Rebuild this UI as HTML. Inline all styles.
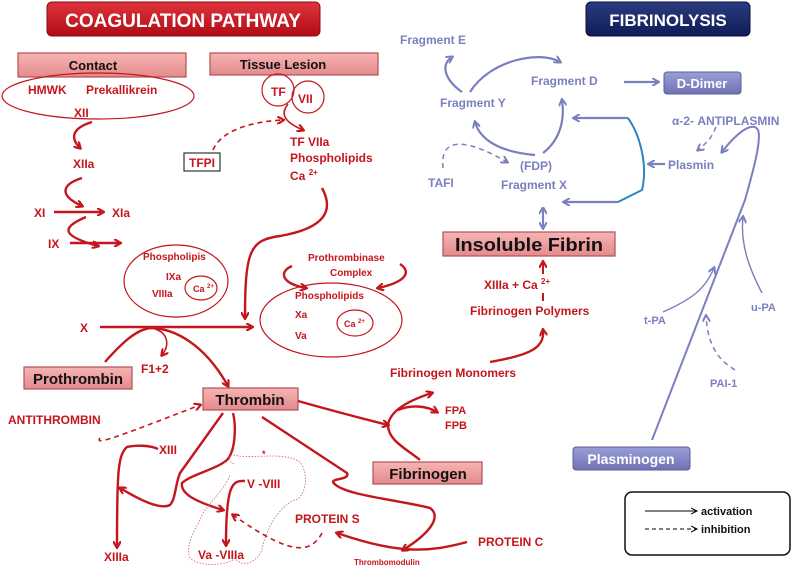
<!DOCTYPE html>
<html><head><meta charset="utf-8"><style>
body{margin:0;background:#fff}
svg{display:block}
text{font-family:"Liberation Sans",sans-serif;font-weight:bold}
.r{fill:#c4161c}
.p{fill:#7a7fbf}
</style></head><body>
<svg width="800" height="571" viewBox="0 0 800 571" xmlns="http://www.w3.org/2000/svg">
<defs>
<linearGradient id="gr" x1="0" y1="0" x2="0" y2="1"><stop offset="0" stop-color="#e0343c"/><stop offset="1" stop-color="#b00c16"/></linearGradient>
<linearGradient id="gb" x1="0" y1="0" x2="0" y2="1"><stop offset="0" stop-color="#2a3c80"/><stop offset="1" stop-color="#0f1c55"/></linearGradient>
<linearGradient id="gp" x1="0" y1="0" x2="0" y2="1"><stop offset="0" stop-color="#f6b4b4"/><stop offset="1" stop-color="#e48a8c"/></linearGradient>
<linearGradient id="gv" x1="0" y1="0" x2="0" y2="1"><stop offset="0" stop-color="#9a9ed6"/><stop offset="1" stop-color="#6e72b4"/></linearGradient>
<marker id="ar" markerWidth="8" markerHeight="8" refX="6" refY="4" orient="auto" markerUnits="userSpaceOnUse"><path d="M0,0 L7,4 L0,8" fill="none" stroke="#c4161c" stroke-width="2.2"/></marker>
<marker id="ap" markerWidth="8" markerHeight="8" refX="6" refY="4" orient="auto" markerUnits="userSpaceOnUse"><path d="M0,0 L7,4 L0,8" fill="none" stroke="#7a7fbf" stroke-width="2"/></marker>
<marker id="aps" markerWidth="8" markerHeight="8" refX="1" refY="4" orient="auto" markerUnits="userSpaceOnUse"><path d="M7,0 L0,4 L7,8" fill="none" stroke="#7a7fbf" stroke-width="2"/></marker>
<marker id="ak" markerWidth="8" markerHeight="8" refX="6" refY="4" orient="auto" markerUnits="userSpaceOnUse"><path d="M0,1 L6,4 L0,7" fill="none" stroke="#000" stroke-width="1"/></marker>
</defs>

<!-- headers -->
<rect x="47" y="2" width="273" height="34" rx="5" fill="url(#gr)" stroke="#8a0a10"/>
<text x="183" y="27" text-anchor="middle" fill="#fff" font-size="19">COAGULATION PATHWAY</text>
<rect x="586" y="2" width="164" height="34" rx="5" fill="url(#gb)" stroke="#0a1040"/>
<text x="668" y="26" text-anchor="middle" fill="#fff" font-size="17">FIBRINOLYSIS</text>

<!-- pink boxes -->
<g stroke="#b05058" stroke-width="1.2" fill="url(#gp)">
<rect x="18" y="53" width="168" height="24"/>
<rect x="210" y="53" width="168" height="22"/>
<rect x="24" y="367" width="108" height="22"/>
<rect x="203" y="388" width="95" height="22"/>
<rect x="373" y="462" width="109" height="22"/>
<rect x="443" y="232" width="172" height="24"/>
</g>
<g fill="#111" font-size="13">
<text x="93" y="70" text-anchor="middle">Contact</text>
<text x="283" y="69" text-anchor="middle">Tissue Lesion</text>
</g>
<g fill="#111" font-size="15">
<text x="78" y="384" text-anchor="middle">Prothrombin</text>
<text x="250" y="405" text-anchor="middle">Thrombin</text>
<text x="428" y="479" text-anchor="middle">Fibrinogen</text>
<text x="455" y="251" font-size="18" textLength="148" lengthAdjust="spacingAndGlyphs">Insoluble Fibrin</text>
</g>

<!-- purple boxes -->
<rect x="664" y="72" width="77" height="22" rx="3" fill="url(#gv)" stroke="#5a5e9a"/>
<text x="702" y="88" text-anchor="middle" fill="#fff" font-size="13">D-Dimer</text>
<rect x="573" y="447" width="117" height="23" rx="3" fill="url(#gv)" stroke="#5a5e9a"/>
<text x="631" y="464" text-anchor="middle" fill="#fff" font-size="14">Plasminogen</text>

<!-- ellipses & circles -->
<g fill="none" stroke="#c4161c" stroke-width="1.2">
<ellipse cx="98" cy="96" rx="96" ry="23"/>
<circle cx="278" cy="90" r="16"/>
<circle cx="308" cy="97" r="16"/>
<ellipse cx="176" cy="281" rx="52" ry="36"/>
<ellipse cx="201" cy="288" rx="16" ry="12"/>
<ellipse cx="331" cy="320" rx="71" ry="37"/>
<ellipse cx="355" cy="323" rx="18" ry="13"/>
</g>

<!-- red text -->
<g class="r" font-size="12">
<text x="28" y="94">HMWK</text><text x="86" y="94">Prekallikrein</text>
<text x="74" y="117">XII</text>
<text x="271" y="96">TF</text><text x="298" y="103">VII</text>
<text x="290" y="146">TF  VIIa</text>
<text x="290" y="162">Phospholipids</text>
<text x="290" y="180">Ca <tspan font-size="8" dy="-5">2+</tspan></text>
<text x="73" y="168">XIIa</text>
<text x="34" y="217">XI</text><text x="112" y="217">XIa</text>
<text x="48" y="248">IX</text>
<text x="143" y="260" font-size="10">Phospholipis</text>
<text x="166" y="280" font-size="10">IXa</text>
<text x="152" y="297" font-size="10">VIIIa</text>
<text x="193" y="292" font-size="9">Ca <tspan font-size="6" dy="-4">2+</tspan></text>
<text x="308" y="261" font-size="10">Prothrombinase</text>
<text x="330" y="276" font-size="10">Complex</text>
<text x="295" y="299" font-size="10">Phospholipids</text>
<text x="295" y="318" font-size="10">Xa</text>
<text x="295" y="339" font-size="10">Va</text>
<text x="344" y="327" font-size="9">Ca <tspan font-size="6" dy="-4">2+</tspan></text>
<text x="80" y="332">X</text>
<text x="141" y="373">F1+2</text>
<text x="8" y="424">ANTITHROMBIN</text>
<text x="159" y="454" font-weight="normal">XIII</text>
<text x="104" y="561">XIIIa</text>
<text x="247" y="488" font-weight="normal">V -VIII</text>
<text x="198" y="559">Va -VIIIa</text>
<text x="295" y="523">PROTEIN S</text>
<text x="478" y="546">PROTEIN C</text>
<text x="354" y="565" font-size="8">Thrombomodulin</text>
<text x="445" y="414" font-size="11" font-weight="normal">FPA</text>
<text x="445" y="429" font-size="11" font-weight="normal">FPB</text>
<text x="390" y="377">Fibrinogen Monomers</text>
<text x="470" y="315">Fibrinogen Polymers</text>
<text x="484" y="289">XIIIa  + Ca <tspan font-size="8" dy="-5">2+</tspan></text>
<text x="262" y="457" font-size="9">*</text>
</g>
<rect x="184" y="153" width="36" height="18" fill="none" stroke="#333" stroke-width="1.2"/>
<text x="202" y="167" text-anchor="middle" class="r" font-size="12">TFPI</text>

<!-- red connectors -->
<g fill="none" stroke="#c4161c" stroke-width="2.4" marker-end="url(#ar)">
<path d="M92,122 C72,128 70,138 80,148"/>
<path d="M82,178 C60,185 60,196 82,206"/>
<path d="M54,212 L103,212"/>
<path d="M86,217 C60,228 62,236 98,246"/>
<path d="M70,243 L120,243"/>
<path d="M322,188 C334,210 326,228 280,236 C250,240 245,250 245,318"/>
<path d="M100,327 L252,327"/>
<path d="M292,266 C278,272 282,284 306,288"/>
<path d="M400,264 C412,272 406,282 378,288"/>
<path d="M105,362 C120,345 135,330 150,328 C175,328 205,345 228,386"/>
<path d="M223,413 L180,473 C175,485 176,498 170,505 C160,510 140,500 120,488"/>
<path d="M233,413 C236,425 236,450 227,460 C215,470 192,474 182,483 C180,495 200,503 223,510"/>
<path d="M158,449 C150,445 135,445 127,447 C118,455 117,470 117,547"/>
<path d="M245,481 C232,480 226,485 226,545"/>
<path d="M262,417 L347,473 C350,480 333,478 333,482 C340,495 400,500 430,508 C440,515 435,530 403,550"/>
<path d="M467,542 C430,552 400,555 337,533"/>
<path d="M298,401 C330,410 360,418 388,425"/>
<path d="M420,460 C405,448 388,440 388,425 C390,410 410,400 432,393"/>
<path d="M398,410 C410,405 425,405 437,412"/>
<path d="M490,362 C530,355 545,348 543,330"/>
<path d="M543,274 L543,262" stroke-width="2"/>
<path d="M288,104 C280,114 284,122 303,130" stroke-width="1.6"/>
<path d="M155,329 C168,333 170,345 162,355" stroke-width="1.5"/>
</g>
<line x1="543" y1="293" x2="543" y2="301" stroke="#c4161c" stroke-width="2"/>
<g fill="none" stroke="#c4161c" stroke-width="1.6" stroke-dasharray="5,4" marker-end="url(#ar)">
<path d="M213,150 C220,133 245,122 283,120"/>
<path d="M100,438 C95,445 110,440 200,405"/>
<path d="M322,533 C310,555 290,555 233,515"/>
</g>
<path d="M234,464 C225,460 228,452 238,456 C260,458 285,452 300,462 C310,475 305,498 295,500 C280,505 265,530 262,550 C255,565 240,567 235,558 C230,565 200,568 190,558 C185,545 195,530 200,520 C205,505 225,490 230,475" fill="none" stroke="#d06068" stroke-width="0.8" stroke-dasharray="1.5,1.5"/>

<!-- fibrinolysis text -->
<g class="p" font-size="12">
<text x="400" y="44">Fragment E</text>
<text x="531" y="85">Fragment D</text>
<text x="440" y="107">Fragment Y</text>
<text x="672" y="125">α-2- ANTIPLASMIN</text>
<text x="668" y="169">Plasmin</text>
<text x="428" y="187">TAFI</text>
<text x="520" y="170">(FDP)</text>
<text x="501" y="189">Fragment X</text>
<text x="644" y="324" font-size="11">t-PA</text>
<text x="751" y="311" font-size="11">u-PA</text>
<text x="710" y="387" font-size="11">PAI-1</text>
</g>
<g fill="none" stroke="#7a7fbf" stroke-width="2.2" marker-end="url(#ap)">
<path d="M462,92 C445,80 440,65 452,57"/>
<path d="M470,92 C490,60 540,50 560,62"/>
<path d="M543,153 C560,140 565,120 562,100"/>
<path d="M535,155 C500,152 480,140 475,122"/>
<path d="M624,82 L658,82"/>
<path d="M543,208 L543,228" marker-start="url(#aps)"/>
<path d="M628,118 L574,118"/>
<path d="M618,202 L564,202"/>
<path d="M665,164 L649,164"/>
<path d="M652,440 L745,200 C752,175 762,140 758,130 C752,120 735,135 722,152" stroke-width="2"/>
<path d="M663,312 C690,300 705,290 714,268" stroke-width="1.4"/>
<path d="M762,293 C750,270 740,245 743,217" stroke-width="1.4"/>
</g>
<path d="M628,118 C640,135 648,165 642,190 L618,202" fill="none" stroke="#2a86c0" stroke-width="2"/>
<g fill="none" stroke="#7a7fbf" stroke-width="1.5" stroke-dasharray="5,4" marker-end="url(#ap)">
<path d="M443,168 C440,140 460,135 507,162"/>
<path d="M716,127 C712,137 708,142 698,150"/>
<path d="M735,370 C722,362 708,350 706,316"/>
</g>

<!-- legend -->
<rect x="625" y="492" width="165" height="63" rx="7" fill="#fff" stroke="#111" stroke-width="1.5"/>
<line x1="645" y1="511" x2="697" y2="511" stroke="#000" stroke-width="1" marker-end="url(#ak)"/>
<line x1="645" y1="529" x2="697" y2="529" stroke="#000" stroke-width="1" stroke-dasharray="4,3" marker-end="url(#ak)"/>
<text x="701" y="515" font-size="11" fill="#111">activation</text>
<text x="701" y="533" font-size="11" fill="#111">inhibition</text>
</svg>
</body></html>
